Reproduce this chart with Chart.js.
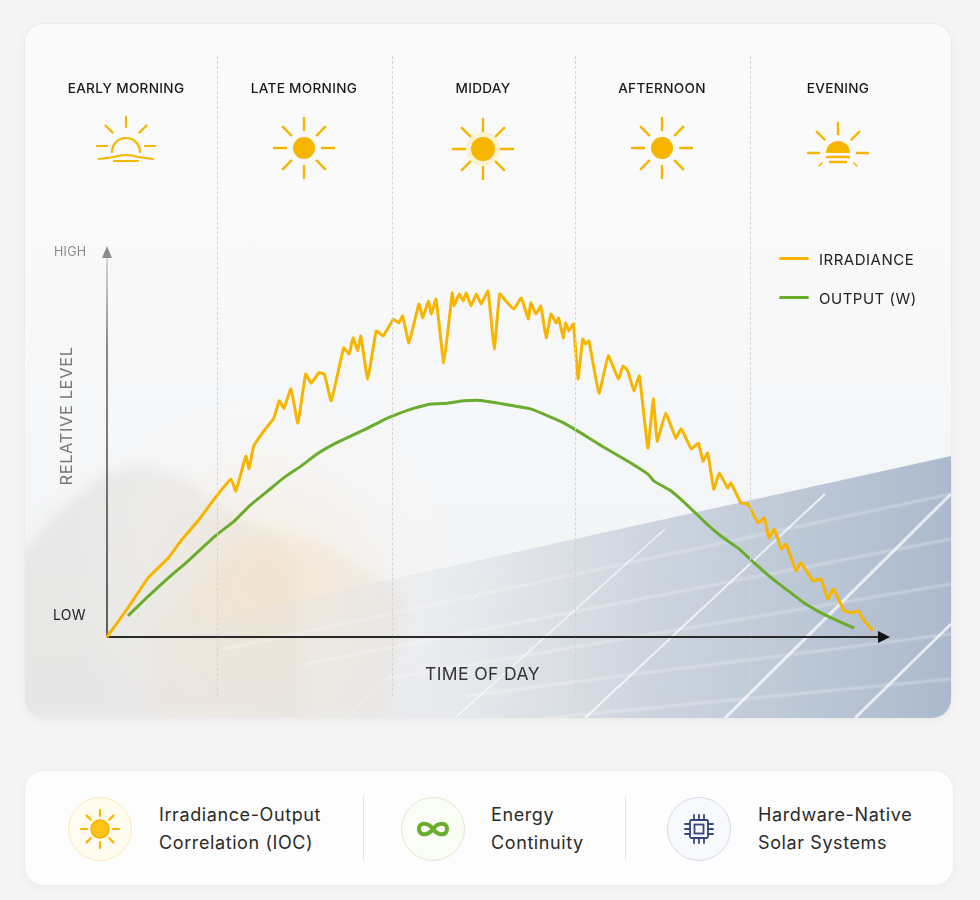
<!DOCTYPE html>
<html>
<head>
<meta charset="utf-8">
<script src="https://cdn.jsdelivr.net/npm/chart.js@4.4.1/dist/chart.umd.min.js"></script>
<style>
  html, body { margin: 0; padding: 0; background: #f5f5f5; }
  body { width: 980px; height: 900px; position: relative; overflow: hidden; font-family: "Inter", "Noto Sans", sans-serif; }
  .card { position: absolute; left: 24px; top: 23px; width: 926px; height: 694px; border-radius: 20px; background: #fafafa; border: 1px solid #ececec; box-shadow: 0 2px 10px rgba(0,0,0,0.04); overflow: hidden; }
  #bg { position: absolute; left: 0; top: 0; }
  .divider { position: absolute; top: 32px; height: 640px; border-left: 1.5px dashed #d4d4d4; }
  .period { position: absolute; top: 56px; width: 180px; margin-left: -90px; text-align: center; font-size: 13.6px; font-weight: 500; color: #1a1a1a; letter-spacing: 0.3px; }
  .icon { position: absolute; }
  #chartBox { position: absolute; left: 0; top: 0; width: 926px; height: 694px; }
  .lbl { position: absolute; white-space: nowrap; }
  .legend { position: absolute; left: 754px; font-size: 15px; color: #222; letter-spacing: 0.5px; }
  .legend span.sw { display: inline-block; width: 30px; height: 3px; border-radius: 2px; vertical-align: middle; margin-right: 10px; position: relative; top: -2px; }
  .strip { position: absolute; left: 24px; top: 770px; width: 928px; height: 114px; border-radius: 20px; background: #fdfdfd; border: 1px solid #ededed; box-shadow: 0 2px 10px rgba(0,0,0,0.035); }
  .feat { position: absolute; top: 30px; font-size: 18px; line-height: 28px; color: #2a2a2a; letter-spacing: 0.6px; }
  .vsep { position: absolute; top: 25px; height: 64px; border-left: 1px solid #e2e2e2; }
  .circ { position: absolute; top: 26px; width: 62px; height: 62px; border-radius: 50%; }
</style>
</head>
<body>
<div class="card" id="card">
  <svg id="bg" width="926" height="694" viewBox="0 0 926 694">
    <defs>
      <filter id="blur8" filterUnits="userSpaceOnUse" x="-100" y="300" width="700" height="500"><feGaussianBlur stdDeviation="7"/></filter>
      <filter id="blur2" filterUnits="userSpaceOnUse" x="0" y="300" width="926" height="400"><feGaussianBlur stdDeviation="1.2"/></filter>
      <linearGradient id="sky" x1="0" y1="0" x2="0" y2="1">
        <stop offset="0" stop-color="#fbfbfb"/>
        <stop offset="0.55" stop-color="#f6f7f8"/>
        <stop offset="1" stop-color="#f0f1f3"/>
      </linearGradient>
      <radialGradient id="glow" cx="240" cy="560" r="200" gradientUnits="userSpaceOnUse">
        <stop offset="0" stop-color="#fae6c4" stop-opacity="0.55"/>
        <stop offset="0.5" stop-color="#f8eedf" stop-opacity="0.3"/>
        <stop offset="1" stop-color="#ffffff" stop-opacity="0"/>
      </radialGradient>
      <linearGradient id="panel" x1="0" y1="0" x2="1" y2="0">
        <stop offset="0" stop-color="#efece6" stop-opacity="0.1"/>
        <stop offset="0.4" stop-color="#d9dde3" stop-opacity="0.35"/>
        <stop offset="0.65" stop-color="#bcc7d5" stop-opacity="0.7"/>
        <stop offset="1" stop-color="#a3b3c8" stop-opacity="0.9"/>
      </linearGradient>
      <linearGradient id="fadeTop" x1="0" y1="0" x2="0" y2="1">
        <stop offset="0" stop-color="#fafafa" stop-opacity="1"/>
        <stop offset="1" stop-color="#fafafa" stop-opacity="0"/>
      </linearGradient>
    </defs>
    <rect width="926" height="694" fill="url(#sky)"/>
    <g filter="url(#blur8)">
      <path d="M-30 560 L30 490 L80 450 L120 440 L160 455 L200 485 L240 505 L270 540 L280 694 L-30 694 Z" fill="#d8d4cf" opacity="0.4"/>
      <path d="M130 600 L200 530 L250 505 L300 520 L350 550 L380 575 L360 694 L130 694 Z" fill="#e8dccb" opacity="0.45"/>
    </g>
    <rect width="926" height="694" fill="url(#glow)"/>
    <path d="M110 612 L926 432 L926 694 L60 694 Z" fill="url(#panel)"/>
    <g stroke="#ffffff" stroke-opacity="0.55" stroke-width="1.3" fill="none" filter="url(#blur2)">
      <line x1="200" y1="625" x2="926" y2="470"/>
      <line x1="280" y1="640" x2="926" y2="515"/>
      <line x1="360" y1="655" x2="926" y2="560"/>
      <line x1="440" y1="672" x2="926" y2="610"/>
      <line x1="520" y1="694" x2="926" y2="655"/>
    </g>
    <g stroke="#ffffff" stroke-opacity="0.7" fill="none">
      <line x1="700" y1="694" x2="926" y2="470" stroke-width="3"/>
      <line x1="560" y1="694" x2="800" y2="470" stroke-width="2"/>
      <line x1="430" y1="694" x2="640" y2="505" stroke-width="1.4"/>
      <line x1="320" y1="694" x2="480" y2="545" stroke-opacity="0.35"/>
      <line x1="830" y1="694" x2="926" y2="600" stroke-width="3"/>
    </g>
    <rect width="926" height="300" fill="url(#fadeTop)"/>
  </svg>
  <div id="chartBox"><canvas id="chart"></canvas></div>
</div>
<div class="strip" id="strip"></div>

<script>
// categorias (franjas del dia) y nombres de las series
const periods = ['EARLY MORNING', 'LATE MORNING', 'MIDDAY', 'AFTERNOON', 'EVENING'];
const seriesNames = ['IRRADIANCE', 'OUTPUT (W)'];
const levelTicks = ['LOW', 'HIGH'];
const axisTitles = ['TIME OF DAY', 'RELATIVE LEVEL'];
const features = [
  ['Irradiance-Output', 'Correlation (IOC)'],
  ['Energy', 'Continuity'],
  ['Hardware-Native', 'Solar Systems']
];

// irradiancia: tiempo relativo (0-100) y nivel relativo (0-100)
const irrTime = [0, 2.7, 5.3, 7.9, 9.5, 11.7, 14.3, 16.0, 16.6, 17.9, 18.3, 18.9, 20.2, 21.5, 22.2, 22.8,
  23.7, 24.6, 25.6, 26.3, 27.3, 28.0, 28.9, 30.5, 31.2, 31.7, 32.3, 32.7, 33.6, 34.7, 35.6, 36.9,
  37.6, 38.1, 38.9, 40.2, 40.7, 41.4, 41.8, 42.4, 43.4, 44.5, 44.7, 45.4, 45.9, 46.3, 46.9, 47.6,
  48.2, 49.1, 49.9, 50.6, 51.4, 52.4, 53.4, 54.3, 54.6, 55.3, 55.9, 56.6, 57.2, 57.9, 58.2, 58.8,
  59.1, 59.5, 60.1, 60.7, 61.3, 61.7, 62.1, 63.4, 64.6, 65.9, 66.5, 67.1, 67.9, 68.6, 69.7, 70.4,
  70.9, 72.0, 73.3, 74.0, 75.3, 76.2, 76.8, 77.4, 78.2, 78.9, 80.0, 80.4, 81.7, 82.6, 83.9, 84.7,
  85.3, 86.0, 86.9, 87.5, 88.8, 89.4, 91.0, 92.0, 92.9, 93.6, 95.0, 95.9, 96.8, 97.4, 98.7];
const irrLevel = [0, 7.6, 15.4, 20.6, 25.0, 30.2, 37.2, 41.1, 38.0, 47.1, 43.8, 49.7, 53.6, 57.0, 61.5, 59.6,
  64.6, 55.7, 68.5, 66.1, 68.8, 68.5, 61.5, 75.3, 73.7, 77.9, 74.5, 78.4, 67.2, 79.7, 78.4, 82.8,
  81.8, 83.6, 76.6, 86.7, 83.1, 87.5, 84.1, 88.0, 71.4, 89.6, 86.2, 89.3, 87.5, 89.6, 86.2, 89.3,
  86.7, 90.1, 75.0, 89.3, 87.5, 85.4, 88.3, 82.8, 87.0, 84.1, 86.2, 77.9, 84.1, 81.8, 83.1, 77.9,
  81.8, 79.7, 81.5, 67.2, 77.6, 76.3, 77.1, 63.5, 73.2, 67.2, 70.6, 69.3, 64.1, 68.0, 49.2, 62.0,
  51.0, 58.3, 51.8, 54.2, 49.0, 50.5, 45.8, 47.9, 38.5, 42.7, 38.8, 40.1, 34.9, 34.6, 29.7, 31.0,
  25.8, 28.1, 22.9, 24.2, 17.2, 19.3, 14.6, 15.1, 9.9, 12.5, 6.8, 6.3, 6.8, 4.7, 1.6];

// potencia de salida
const outTime = [2.7, 5.3, 7.9, 10.0, 12.1, 14.3, 16.4, 18.5, 20.7, 22.8, 25.0, 27.1, 29.3, 31.4, 33.6, 35.6,
  37.5, 39.6, 41.8, 43.9, 46.0, 48.2, 50.4, 52.4, 54.6, 56.8, 58.9, 61.1, 63.3, 65.3, 67.5, 69.7,
  70.5, 72.7, 74.9, 76.9, 79.1, 81.3, 83.4, 85.6, 87.8, 89.8, 92.0, 94.2, 96.3];
const outLevel = [5.5, 10.6, 15.4, 19.0, 22.9, 26.9, 30.2, 34.4, 38.0, 41.5, 44.5, 47.7, 50.3, 52.3, 54.4, 56.5,
  58.1, 59.6, 60.7, 60.9, 61.5, 61.6, 60.9, 60.2, 59.4, 57.6, 55.7, 53.1, 50.3, 47.9, 45.3, 42.4,
  40.6, 38.0, 34.1, 30.2, 26.3, 23.2, 19.3, 15.4, 12.0, 8.9, 6.3, 4.2, 2.3];

const naranja = '#f7b500';
const verde = '#6aad2c';

document.addEventListener('DOMContentLoaded', function() {
  const card = document.getElementById('card');

  // columnas de franjas del dia
  const centros = [101, 279, 458, 637, 813];
  const divisores = [192, 367, 550, 725];
  divisores.forEach(function(x) {
    const d = document.createElement('div');
    d.className = 'divider';
    d.style.left = x + 'px';
    card.appendChild(d);
  });
  periods.forEach(function(p, i) {
    const t = document.createElement('div');
    t.className = 'period';
    t.style.left = centros[i] + 'px';
    t.textContent = p;
    card.appendChild(t);
  });

  // iconos de sol
  function rayos(cx, cy, r1, r2, skipBottom) {
    let s = '';
    for (let k = 0; k < 8; k++) {
      const a = k * Math.PI / 4;
      if (skipBottom && Math.sin(a) > 0.1) continue;
      s += '<line x1="' + (cx + r1 * Math.cos(a)).toFixed(1) + '" y1="' + (cy + r1 * Math.sin(a)).toFixed(1) +
           '" x2="' + (cx + r2 * Math.cos(a)).toFixed(1) + '" y2="' + (cy + r2 * Math.sin(a)).toFixed(1) + '"/>';
    }
    return s;
  }
  const iconos = [
    '<g stroke="' + naranja + '" stroke-width="2.2" stroke-linecap="round" fill="none">' + rayos(32, 31, 19, 29, true) +
      '<path d="M18 37 A14 14 0 0 1 46 37"/><path d="M5 44 L20 42 Q32 38 44 42 L59 44"/><line x1="20" y1="46" x2="44" y2="46"/></g>',
    '<g stroke="' + naranja + '" stroke-width="2.4" stroke-linecap="round">' + rayos(32, 32, 18, 30) +
      '<circle cx="32" cy="32" r="11" fill="' + naranja + '" stroke="none"/></g>',
    '<circle cx="32" cy="32" r="17" fill="#fde9a8" opacity="0.5"/><g stroke="' + naranja + '" stroke-width="2.4" stroke-linecap="round">' + rayos(32, 32, 18, 30) +
      '<circle cx="32" cy="32" r="12" fill="' + naranja + '" stroke="none"/></g>',
    '<g stroke="' + naranja + '" stroke-width="2.4" stroke-linecap="round">' + rayos(32, 32, 18, 30) +
      '<circle cx="32" cy="32" r="11" fill="' + naranja + '" stroke="none"/></g>',
    '<g stroke="' + naranja + '" stroke-width="2.4" stroke-linecap="round">' + rayos(32, 33, 19, 30, true) +
      '<path d="M20 33 A12 12 0 0 1 44 33 Z" fill="' + naranja + '" stroke="none"/>' +
      '<line x1="21" y1="37" x2="43" y2="37"/><line x1="24" y1="42" x2="40" y2="42"/>' +
      '<line x1="13" y1="46" x2="16" y2="43" stroke-width="1.6"/><line x1="51" y1="46" x2="48" y2="43" stroke-width="1.6"/></g>'
  ];
  const iconY = [114, 115, 116, 115, 119];
  iconos.forEach(function(svg, i) {
    const d = document.createElement('div');
    d.className = 'icon';
    d.style.left = (centros[i] - 32) + 'px';
    d.style.top = (iconY[i] - 23) + 'px';
    d.innerHTML = '<svg width="64" height="64" viewBox="0 0 64 64">' + svg + '</svg>';
    card.appendChild(d);
  });

  // leyenda
  [naranja, verde].forEach(function(c, i) {
    const l = document.createElement('div');
    l.className = 'legend';
    l.style.top = (226 + i * 39) + 'px';
    l.innerHTML = '<span class="sw" style="background:' + c + '"></span>' + seriesNames[i];
    card.appendChild(l);
  });

  // etiquetas de ejes
  function etiqueta(txt, css) {
    const e = document.createElement('div');
    e.className = 'lbl';
    e.textContent = txt;
    Object.assign(e.style, css);
    card.appendChild(e);
  }
  etiqueta(levelTicks[1], { left: '29px', top: '220px', fontSize: '12.5px', color: '#8a8a8a', letterSpacing: '0.3px' });
  etiqueta(levelTicks[0], { left: '28px', top: '582px', fontSize: '14px', color: '#1e1e1e', letterSpacing: '0.3px' });
  etiqueta(axisTitles[0], { left: '400px', top: '639px', fontSize: '17.5px', color: '#333', letterSpacing: '0.4px' });
  etiqueta(axisTitles[1], { left: '41px', top: '392px', fontSize: '16.5px', color: '#777', letterSpacing: '0.6px',
    transform: 'translate(-50%, -50%) rotate(-90deg)' });

  // ejes con flechas
  const ejesPlugin = {
    id: 'ejes',
    beforeDatasetsDraw(chart) {
      const ctx = chart.ctx;
      const a = chart.chartArea;
      ctx.save();
      const g = ctx.createLinearGradient(0, a.top, 0, a.bottom);
      g.addColorStop(0, 'rgba(120,120,120,0.35)');
      g.addColorStop(0.25, 'rgba(60,60,60,0.75)');
      g.addColorStop(1, 'rgba(40,40,40,0.9)');
      ctx.strokeStyle = g;
      ctx.lineWidth = 1.6;
      ctx.beginPath();
      ctx.moveTo(a.left, a.bottom);
      ctx.lineTo(a.left, a.top + 4);
      ctx.stroke();
      ctx.fillStyle = '#8c8c8c';
      ctx.beginPath();
      ctx.moveTo(a.left, a.top - 7);
      ctx.lineTo(a.left - 5, a.top + 5);
      ctx.lineTo(a.left + 5, a.top + 5);
      ctx.closePath();
      ctx.fill();
      ctx.strokeStyle = '#2a2a2a';
      ctx.lineWidth = 2;
      ctx.beginPath();
      ctx.moveTo(a.left, a.bottom);
      ctx.lineTo(a.right - 4, a.bottom);
      ctx.stroke();
      ctx.fillStyle = '#111';
      ctx.beginPath();
      ctx.moveTo(a.right - 5, a.bottom - 6);
      ctx.lineTo(a.right + 7, a.bottom);
      ctx.lineTo(a.right - 5, a.bottom + 6);
      ctx.closePath();
      ctx.fill();
      ctx.restore();
    }
  };

  const puntos = (xs, ys) => xs.map((x, i) => ({ x: x, y: ys[i] }));

  new Chart(document.getElementById('chart'), {
    type: 'line',
    data: {
      datasets: [
        {
          label: seriesNames[0],
          data: puntos(irrTime, irrLevel),
          borderColor: naranja,
          borderWidth: 3,
          pointRadius: 0,
          tension: 0.1,
          borderJoinStyle: 'round',
          clip: false
        },
        {
          label: seriesNames[1],
          data: puntos(outTime, outLevel),
          borderColor: verde,
          borderWidth: 3,
          pointRadius: 0,
          tension: 0.1,
          borderJoinStyle: 'round',
          clip: false
        }
      ]
    },
    options: {
      responsive: true,
      maintainAspectRatio: false,
      animation: false,
      layout: { padding: { left: 82, top: 229, right: 68, bottom: 81 } },
      plugins: { legend: { display: false }, tooltip: { enabled: false } },
      scales: {
        x: { type: 'linear', min: 0, max: 100, display: false },
        y: { min: 0, max: 100, display: false }
      }
    },
    plugins: [ejesPlugin]
  });

  // tarjeta inferior
  const strip = document.getElementById('strip');
  const circX = [43, 376, 642];
  const textX = [134, 466, 733];
  const circEstilo = [
    'background:#fffbee;border:1.5px solid #f9e8b8;',
    'background:#fafcf6;border:1.5px solid #e0e9d2;',
    'background:#f8f9fc;border:1.5px solid #d3d9e6;'
  ];
  const circSvg = [
    '<g stroke="' + naranja + '" stroke-width="2.2" stroke-linecap="round">' + rayos(31, 31, 13, 19) +
      '<circle cx="31" cy="31" r="9" fill="#fcc419" stroke="#f5b000" stroke-width="1.5"/></g>',
    '<path d="M31 31 C26 24 17 24 17 31 C17 38 26 38 31 31 C36 24 45 24 45 31 C45 38 36 38 31 31 Z" fill="none" stroke="' + verde + '" stroke-width="4"/>',
    '<g stroke="#34477a" stroke-width="1.8" fill="none" stroke-linecap="round">' +
      '<rect x="22" y="22" width="18" height="18" rx="1.5"/><rect x="26.5" y="26.5" width="9" height="9"/>' +
      '<line x1="26" y1="17" x2="26" y2="22"/><line x1="31" y1="17" x2="31" y2="22"/><line x1="36" y1="17" x2="36" y2="22"/>' +
      '<line x1="26" y1="40" x2="26" y2="45"/><line x1="31" y1="40" x2="31" y2="45"/><line x1="36" y1="40" x2="36" y2="45"/>' +
      '<line x1="17" y1="26" x2="22" y2="26"/><line x1="17" y1="31" x2="22" y2="31"/><line x1="17" y1="36" x2="22" y2="36"/>' +
      '<line x1="40" y1="26" x2="45" y2="26"/><line x1="40" y1="31" x2="45" y2="31"/><line x1="40" y1="36" x2="45" y2="36"/></g>'
  ];
  features.forEach(function(f, i) {
    const c = document.createElement('div');
    c.className = 'circ';
    c.style.cssText += circEstilo[i] + 'left:' + circX[i] + 'px;';
    c.innerHTML = '<svg width="62" height="62" viewBox="0 0 62 62">' + circSvg[i] + '</svg>';
    strip.appendChild(c);
    const t = document.createElement('div');
    t.className = 'feat';
    t.style.left = textX[i] + 'px';
    t.innerHTML = f[0] + '<br>' + f[1];
    strip.appendChild(t);
  });
  [338, 600].forEach(function(x) {
    const s = document.createElement('div');
    s.className = 'vsep';
    s.style.left = x + 'px';
    strip.appendChild(s);
  });
});
</script>
</body>
</html>
